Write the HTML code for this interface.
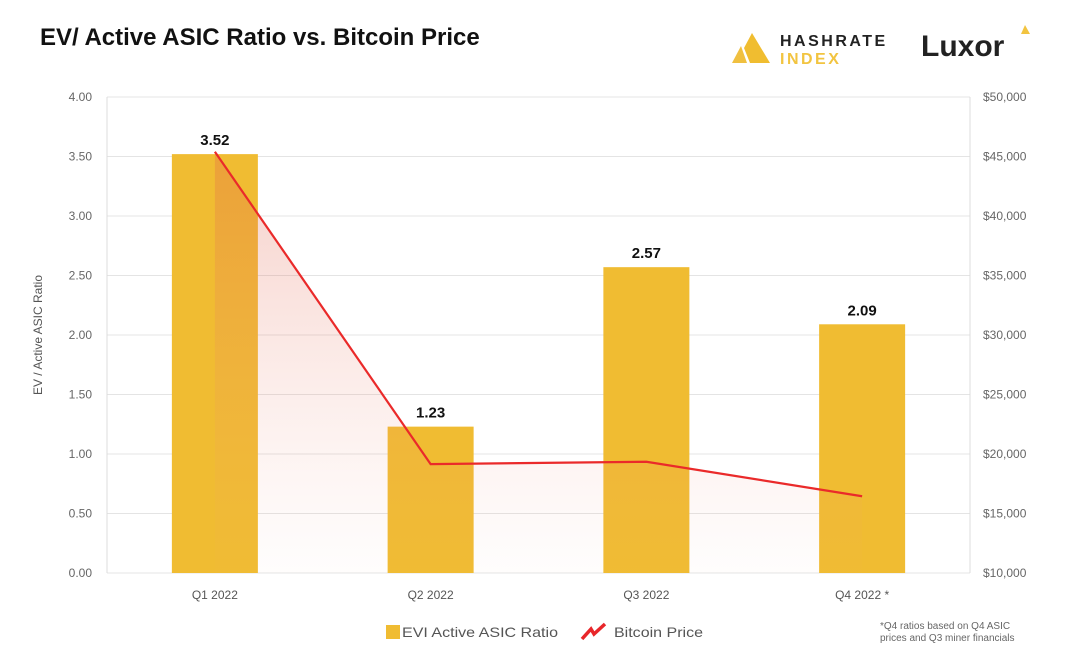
<!DOCTYPE html>
<html><head><meta charset="utf-8"><style>
body{margin:0;background:#fff;width:1091px;height:662px;overflow:hidden;font-family:"Liberation Sans",sans-serif}
svg text{font-family:"Liberation Sans",sans-serif}
</style></head><body>
<svg id="c" width="1091" height="662">
<defs><linearGradient id="ag" x1="0" y1="0" x2="0" y2="1">
<stop offset="0" stop-color="#e0604a" stop-opacity="0.3"/><stop offset="1" stop-color="#f2a08c" stop-opacity="0.02"/></linearGradient></defs>
<text x="40" y="45" font-size="24" font-weight="bold" fill="#111">EV/ Active ASIC Ratio vs. Bitcoin Price</text>
<g>
<polygon points="732,63 741,46 747,63" fill="#f0c040"/><polygon points="744,48 752,33 770,63 750,63" fill="#f0bd30"/>
<text x="780" y="46" font-size="16" font-weight="bold" fill="#222" letter-spacing="2.5">HASHRATE</text>
<text x="780" y="64" font-size="16" font-weight="bold" fill="#f2c440" letter-spacing="2.5">INDEX</text></g>
<g>
<text x="921" y="56" font-size="30" font-weight="bold" fill="#222">Luxor</text>
<polygon points="1021,34 1025,25 1030,34" fill="#f2c440"/></g>
<g id="grid"></g><g id="bars"></g><g id="line"></g><g id="axes"></g>
<g>
<rect x="386" y="625" width="14" height="14" fill="#f0bc32"/>
<text x="402" y="637" font-size="14" fill="#555" textLength="156" lengthAdjust="spacingAndGlyphs">EVI Active ASIC Ratio</text>
<path d="M582,639 L591,629 L594,634 L605,624" stroke="#e8262a" stroke-width="3.5" fill="none"/>
<text x="614" y="637" font-size="14" fill="#555" textLength="89" lengthAdjust="spacingAndGlyphs">Bitcoin Price</text></g>
<text x="880" y="629" font-size="10" fill="#666"><tspan x="880">*Q4 ratios based on Q4 ASIC</tspan><tspan x="880" dy="12">prices and Q3 miner financials</tspan></text>
</svg>
<script>
const categories=["Q1 2022","Q2 2022","Q3 2022","Q4 2022 *"];
const ratios=[3.52,1.23,2.57,2.09];
const prices=[45400,19150,19350,16450];
const leftTicks=[0,0.5,1,1.5,2,2.5,3,3.5,4];
const rightTicks=[10000,15000,20000,25000,30000,35000,40000,45000,50000];
const NS="http://www.w3.org/2000/svg";
const X0=107,X1=970,Y0=573,Y1=97;
const yL=v=>Y0-(v/4)*(Y0-Y1);
const yR=v=>Y0-((v-10000)/40000)*(Y0-Y1);
const band=(X1-X0)/categories.length;
const xC=i=>X0+band*(i+0.5);
function mk(t,a,p){const e=document.createElementNS(NS,t);for(const k in a)e.setAttribute(k,a[k]);p.appendChild(e);return e;}
const G=document.getElementById('grid'),B=document.getElementById('bars'),L=document.getElementById('line'),A=document.getElementById('axes');
leftTicks.forEach((v,i)=>{
 const l=mk('line',{x1:X0,x2:X1,y1:yL(v),y2:yL(v),stroke:'#e4e4e4','stroke-width':1},G);
 
 
 const t=mk('text',{x:92,y:yL(v)+4,'font-size':12,fill:'#666','text-anchor':'end'},A);t.textContent=v.toFixed(2);
 
 
});
rightTicks.forEach(v=>{
 const t=mk('text',{x:983,y:yR(v)+4,'font-size':12,fill:'#666'},A);t.textContent='$'+v.toLocaleString('en-US');
 
 
});
mk('line',{x1:X0,x2:X0,y1:Y1,y2:Y0,stroke:'#ddd'},G);mk('line',{x1:X1,x2:X1,y1:Y1,y2:Y0,stroke:'#ddd'},G);
const yt=mk('text',{x:0,y:0,'font-size':12,fill:'#555','text-anchor':'middle',transform:'translate(42,335) rotate(-90)'},A);yt.textContent='EV / Active ASIC Ratio';


ratios.forEach((v,i)=>{
 const r=mk('rect',{x:xC(i)-43,y:yL(v),width:86,height:Y0-yL(v),fill:'#f0bc32'},B);
 
 
 const t=mk('text',{x:xC(i),y:yL(v)-9,'font-size':15,'font-weight':'bold',fill:'#111','text-anchor':'middle'},B);t.textContent=v.toFixed(2);
 
 
 const c=mk('text',{x:xC(i),y:Y0+26,'font-size':12,fill:'#555','text-anchor':'middle'},A);c.textContent=categories[i];
 
 
});
const pts=prices.map((p,i)=>[xC(i),yR(p)]);
const area=mk('path',{d:'M'+pts.map(p=>p.join(',')).join(' L')+` L${pts[pts.length-1][0]},${Y0} L${pts[0][0]},${Y0} Z`,fill:'url(#ag)'},L);


const pl=mk('polyline',{points:pts.map(p=>p.join(',')).join(' '),fill:'none',stroke:'#ea2a2a','stroke-width':2.2},L);


</script>
</body></html>
